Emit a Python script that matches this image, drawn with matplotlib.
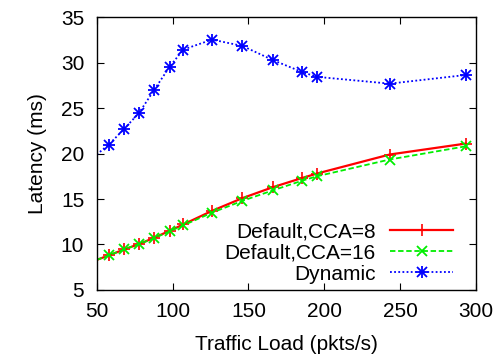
import matplotlib
matplotlib.use("Agg")
import matplotlib.pyplot as plt

plt.rcParams['font.family'] = ['Liberation Sans', 'DejaVu Sans']

# traffic load (pkts/s) at each measured point
load = [58, 68, 78, 88, 98, 107, 126, 146, 166, 185, 195, 243, 293]

cca8 = [8.8, 9.45, 10.05, 10.75, 11.5, 12.2, 13.7, 15.1, 16.3, 17.3, 17.8, 19.9, 21.1]
cca16 = [8.8, 9.45, 10.05, 10.7, 11.45, 12.1, 13.5, 14.8, 15.95, 17.0, 17.5, 19.35, 20.8]
dynamic = [21.0, 22.7, 24.5, 27.05, 29.55, 31.45, 32.55, 31.85, 30.3, 29.0, 28.45, 27.7, 28.65]

# the curves start at the left border of the plot
x_start = 50
cca8_start = 8.3
cca16_start = 8.3
dynamic_start = 19.9

fig = plt.figure(figsize=(4.96, 3.61), dpi=100)
ax = fig.add_axes([0.195, 0.197, 0.765, 0.755])

fs = 15

ax.plot([x_start] + load, [cca8_start] + cca8, color='#ff0000', lw=1.6, ls='-')
ax.plot(load, cca8, color='#ff0000', lw=1.2, ls='none', marker='+', ms=9, mew=1.2)

ax.plot([x_start] + load, [cca16_start] + cca16, color='#00ee00', lw=1.3, ls=(0, (3, 1.5)))
ax.plot(load, cca16, color='#00ee00', ls='none', marker='x', ms=7, mew=1.3)

ax.plot([x_start] + load, [dynamic_start] + dynamic, color='#0000ff', lw=1.3, ls=(0, (1, 1.3)))
ax.plot(load, dynamic, color='#0000ff', ls='none', marker='x', ms=7, mew=1.3)
ax.plot(load, dynamic, color='#0000ff', ls='none', marker='+', ms=9, mew=1.3)

# legend handles
h1 = plt.Line2D([0], [0], color='#ff0000', lw=1.6, marker='+', ms=9, mew=1.2)
h2 = plt.Line2D([0], [0], color='#00ee00', lw=1.3, ls=(0, (3, 1.5)), marker='x', ms=7, mew=1.3)
h3a = plt.Line2D([0], [0], color='#0000ff', lw=1.3, ls=(0, (1, 1.3)), marker='x', ms=7, mew=1.3)
h3b = plt.Line2D([0], [0], color='#0000ff', lw=0, marker='+', ms=9, mew=1.3)
ax.legend([h1, h2, (h3a, h3b)], ['Default,CCA=8', 'Default,CCA=16', 'Dynamic'],
          loc='lower right', bbox_to_anchor=(0.955, 0.0), frameon=False, markerfirst=False,
          fontsize=fs, handlelength=3.0, labelspacing=0.1, handletextpad=0.7,
          borderaxespad=0.1, borderpad=0.2)

ax.set_xlim(50, 300)
ax.set_ylim(5, 35)
ax.set_xticks([50, 100, 150, 200, 250, 300])
ax.set_yticks([5, 10, 15, 20, 25, 30, 35])
ax.tick_params(direction='in', top=True, right=True, labelsize=fs, length=5, pad=9)
ax.set_xlabel('Traffic Load (pkts/s)', fontsize=fs, labelpad=10)
ax.set_ylabel('Latency (ms)', fontsize=fs, labelpad=10)
for s in ax.spines.values():
    s.set_linewidth(1.0)

fig.savefig('out.png', dpi=100)
